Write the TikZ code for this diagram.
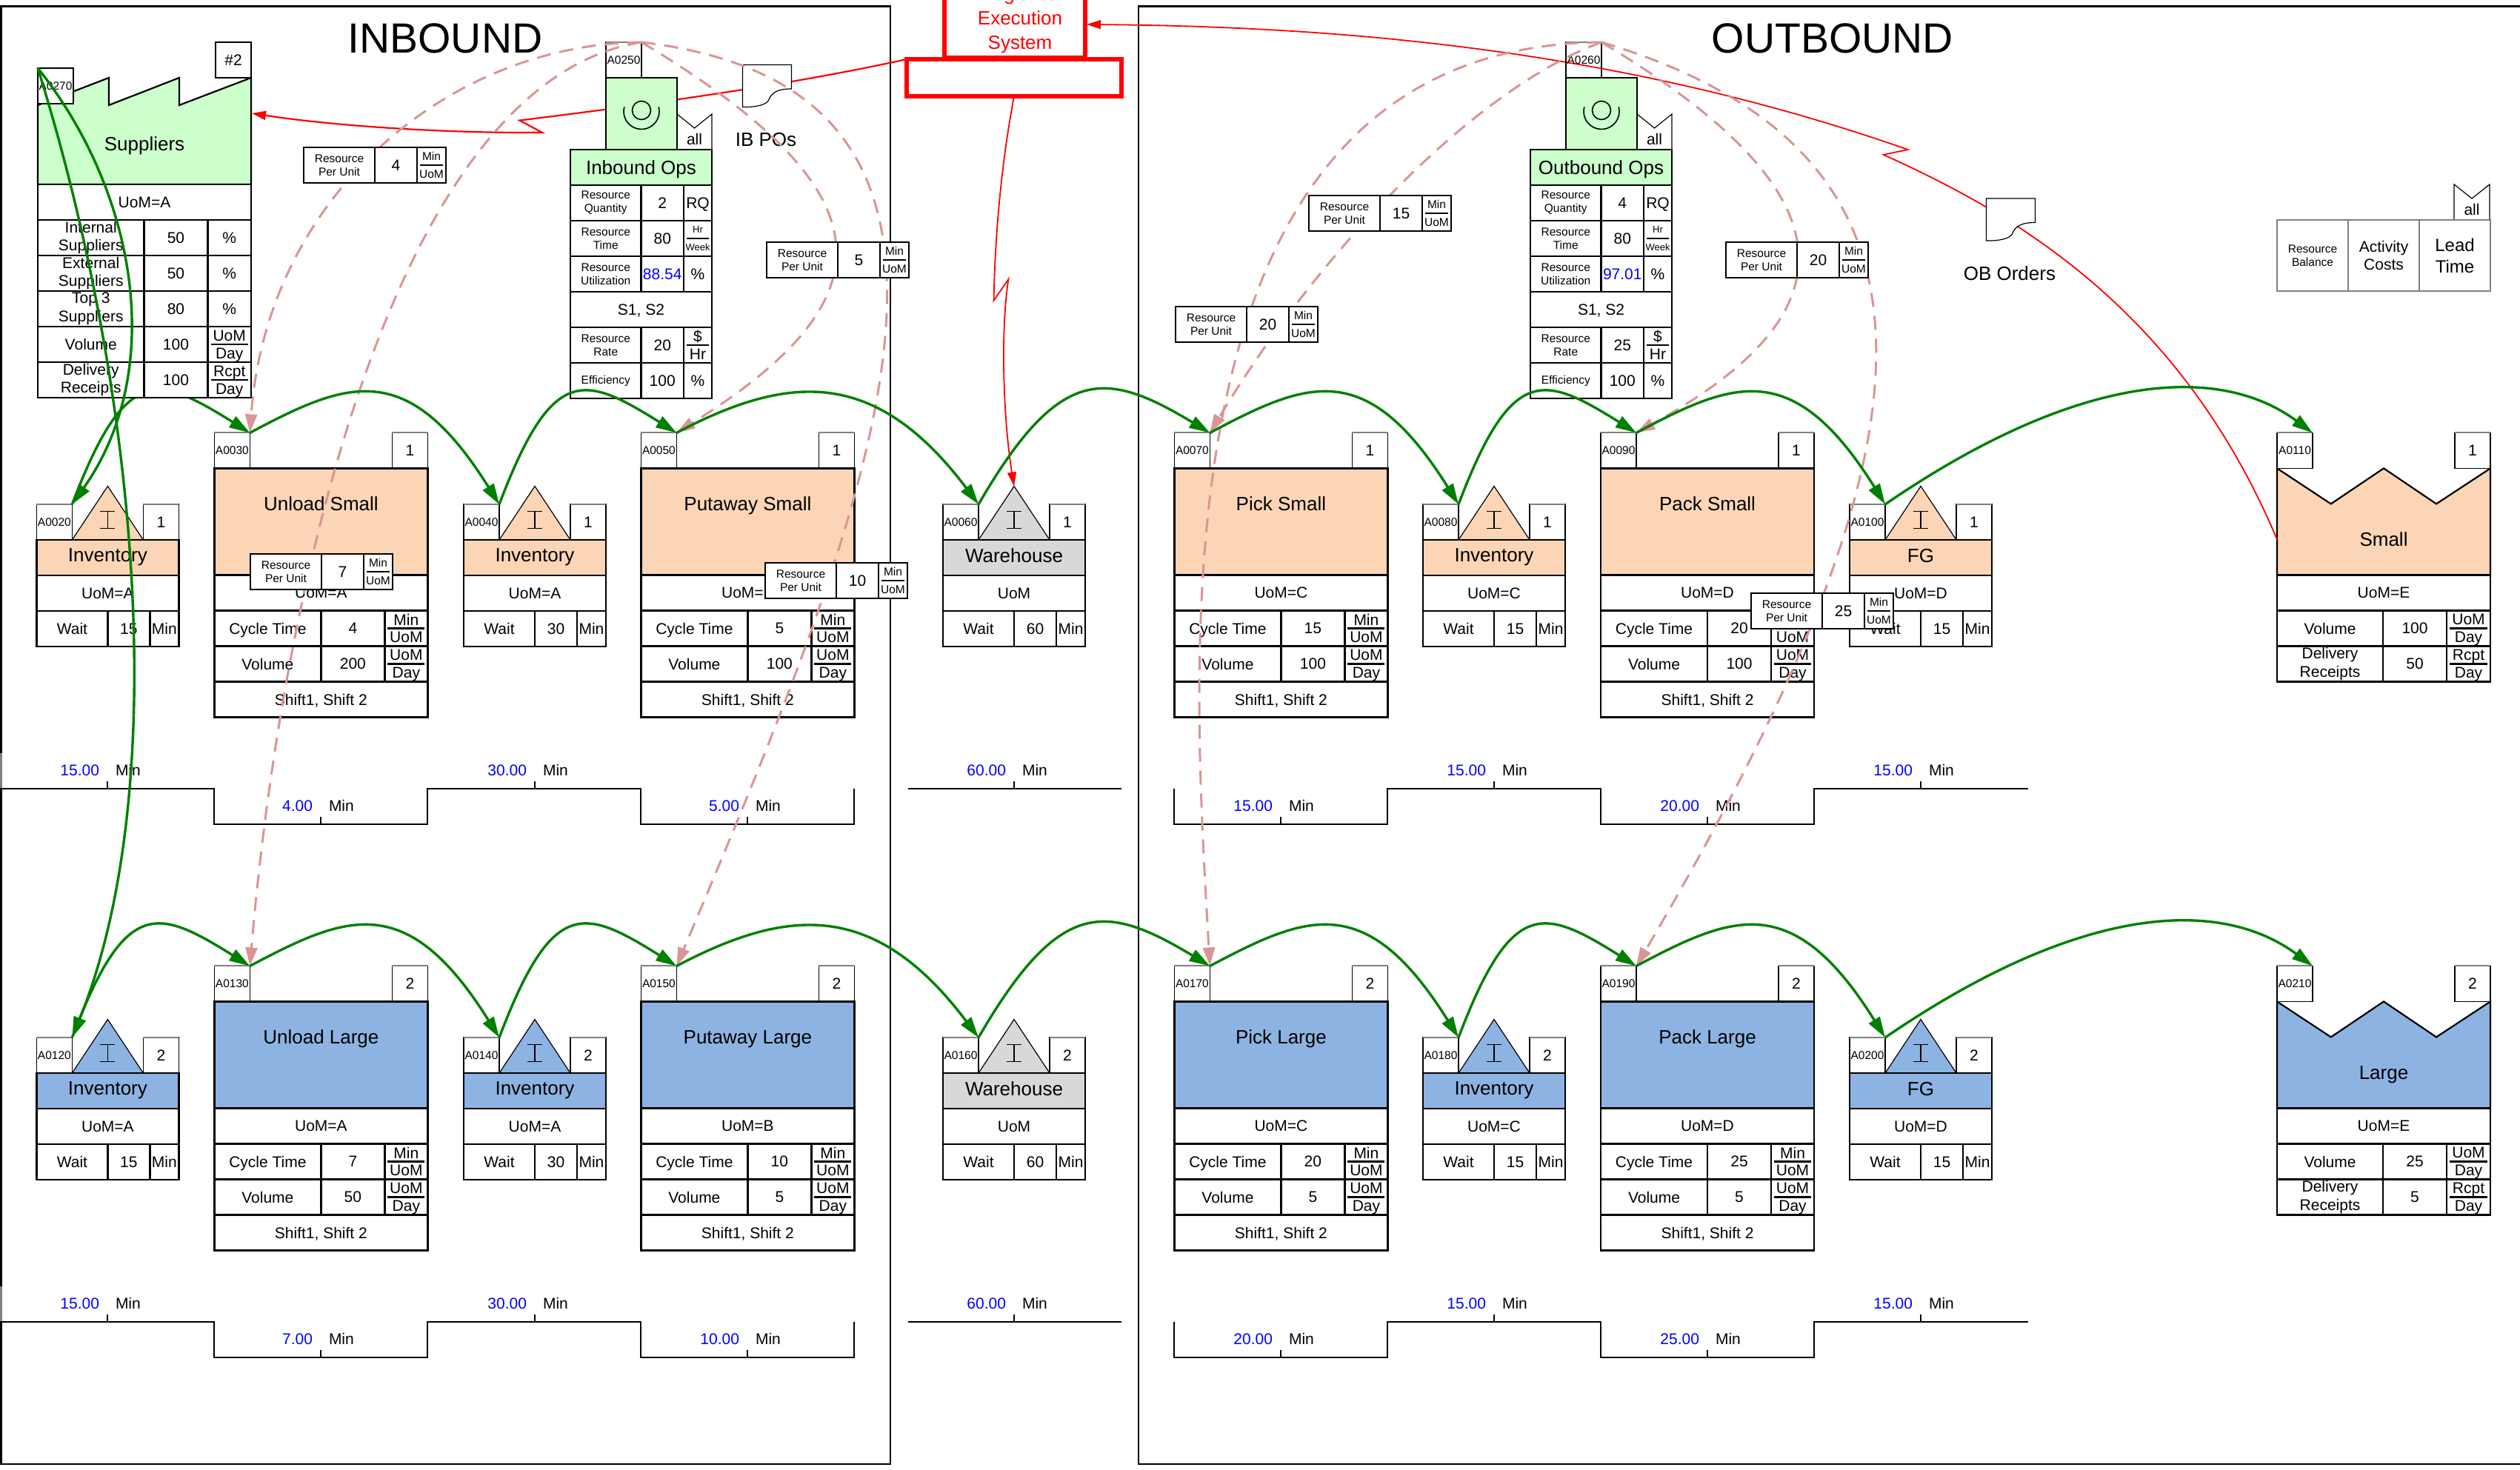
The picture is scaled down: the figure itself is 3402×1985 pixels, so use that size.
\documentclass[tikz,border=0pt]{standalone}
\usepackage{fontspec}
\setmainfont{Liberation Sans}
\usetikzlibrary{arrows.meta}
\definecolor{peach}{HTML}{FBD5B5}
\definecolor{steel}{HTML}{8DB3E2}
\definecolor{mint}{HTML}{CCFFCC}
\definecolor{stock}{HTML}{D8D8D8}
\definecolor{rose}{HTML}{D99694}
\definecolor{flowgreen}{HTML}{008000}
\newcommand{\fonthuge}{\fontsize{57}{60}\selectfont}
\newcommand{\fontbig}{\fontsize{26}{31}\selectfont}
\newcommand{\fontmid}{\fontsize{21}{24.5}\selectfont}
\newcommand{\fontsmall}{\fontsize{15.5}{18.5}\selectfont}
\newcommand{\fonttiny}{\fontsize{13}{15}\selectfont}
\tikzstyle{cell}=[draw,line width=2.2pt,fill=white,inner sep=0pt,outer sep=0pt,anchor=north west,minimum height=48pt,align=center,font=\fontmid]
\tikzstyle{plain}=[inner sep=0pt,outer sep=0pt,text depth=0pt,font=\fontmid]
\tikzstyle{tagbox}=[draw,line width=1.2pt,fill=white,inner sep=0pt,outer sep=0pt,anchor=north west,minimum width=48pt,minimum height=48pt,font=\fontsmall]
\tikzstyle{numbox}=[tagbox,font=\fontmid]
\tikzstyle{thinline}=[draw=black,line width=1.2pt]
\tikzstyle{rule}=[draw=black,line width=2.2pt]
\tikzstyle{tagtop}=[draw=black!50,line width=2pt]
\tikzstyle{tline}=[draw=black,line width=2.2pt]
\tikzstyle{frame}=[draw=black,line width=2.2pt]
\tikzstyle{flow}=[draw=flowgreen,line width=3.4pt,-{Triangle[length=28pt,width=17pt,fill=flowgreen]}]
\tikzstyle{resflow}=[draw=rose,line width=3pt,dash pattern=on 19pt off 12pt,-{Triangle[length=25pt,width=16pt,fill=rose]}]
\tikzstyle{info}=[draw=red,line width=2.2pt,-{Triangle[length=19pt,width=12pt,fill=red]}]
\tikzstyle{legend}=[cell,draw=black!50,minimum width=96pt,minimum height=96pt]
\newcommand{\cellone}[5]{\node[cell,text depth=0pt,minimum width=#4pt] (#1) at (#2,#3) {#5};}
\newcommand{\celltwo}[6]{\node[cell,font=#5,minimum width=#4pt] (#1) at (#2,#3) {#6};}
\newcommand{\celluom}[7]{%
  \node[cell,minimum width=#4pt] (#1) at (#2,#3) {};
  \node[plain,font=#7] (#1p) at ([yshift=12pt]#1.center) {#5};
  \node[plain,font=#7] (#1q) at ([yshift=-12pt]#1.center) {#6};
  \draw[rule] ([xshift=4pt]#1.west) -- ([xshift=-4pt]#1.east);
}
% process box: id, x, y, number, fill, title, uom, cycle time, volume
\newcommand{\vsmProcess}[9]{%
  \begin{scope}[shift={(#2,#3)}]
    \node[tagbox] (#1) at (0,0) {#1};
    \node[numbox] (#1n) at (240,0) {#4};
    \draw[tagtop] (#1.north west) -- (#1.north east) (#1n.north west) -- (#1n.north east);
    \node[cell,fill=#5,minimum width=288pt,minimum height=144pt] (#1h) at (0,48) {};
    \node[plain,font=\fontbig] (#1t) at (144,96) {#6};
    \cellone{#1u}{0}{192}{288}{#7}
    \cellone{#1c}{0}{240}{144}{Cycle Time}
    \cellone{#1v}{144}{240}{86}{#8}
    \celluom{#1m}{230}{240}{58}{Min}{UoM}{\fontmid}
    \cellone{#1d}{0}{288}{144}{Volume}
    \cellone{#1w}{144}{288}{86}{#9}
    \celluom{#1x}{230}{288}{58}{UoM}{Day}{\fontmid}
    \cellone{#1s}{0}{336}{288}{Shift1, Shift 2}
  \end{scope}
}
% stock triangle: id, x, y, number, fill, title, uom, wait
\newcommand{\vsmStock}[8]{%
  \begin{scope}[shift={(#2,#3)}]
    \node[tagbox] (#1) at (0,0) {#1};
    \node[numbox] (#1n) at (144,0) {#4};
    \draw[tagtop] (#1.north west) -- (#1.north east) (#1n.north west) -- (#1n.north east);
    \filldraw[thinline,fill=#5] (48,48) -- (96,-24.5) -- (144,48) -- cycle;
    \coordinate (#1a) at (96,-24.5);
    \draw[thinline] (86,9.7) -- (106,9.7) (96,9.7) -- (96,32.5) (86,32.5) -- (106,32.5);
    \node[cell,fill=#5,minimum width=192pt] (#1h) at (0,48) {};
    \node[plain,font=\fontbig] (#1t) at (96,69) {#6};
    \cellone{#1u}{0}{96}{192}{#7}
    \cellone{#1c}{0}{144}{96}{Wait}
    \cellone{#1v}{96}{144}{57}{#8}
    \cellone{#1m}{153}{144}{39}{Min}
  \end{scope}
}
% customer: id, x, y, number, fill, title, uom, volume, receipts
\newcommand{\vsmCustomer}[9]{%
  \begin{scope}[shift={(#2,#3)}]
    \filldraw[rule,fill=#5] (0,48) -- (72.7,96) -- (144,48) -- (215,96) -- (288,48) -- (288,192) -- (0,192) -- cycle;
    \node[tagbox] (#1) at (0,0) {#1};
    \node[numbox] (#1n) at (240,0) {#4};
    \draw[tagtop] (#1.north west) -- (#1.north east) (#1n.north west) -- (#1n.north east);
    \coordinate (#1w) at (0,144);
    \node[plain,font=\fontbig] (#1t) at (144,144) {#6};
    \cellone{#1u}{0}{192}{288}{#7}
    \cellone{#1c}{0}{240}{143}{Volume}
    \cellone{#1v}{143}{240}{86}{#8}
    \celluom{#1m}{229}{240}{59}{UoM}{Day}{\fontmid}
    \celltwo{#1d}{0}{288}{143}{\fontmid}{Delivery\\Receipts}
    \cellone{#1w2}{143}{288}{86}{#9}
    \celluom{#1x}{229}{288}{59}{Rcpt}{Day}{\fontmid}
  \end{scope}
}
% operator block: id, x, title, quantity, time, utilization, rate, efficiency
\newcommand{\vsmOps}[8]{%
  \begin{scope}[shift={(#2,0)}]
    \node[tagbox,fill=none] (#1) at (48,57) {#1};
    \draw[tagtop] (#1.north west) -- (#1.north east);
    \node[cell,fill=mint,minimum width=96pt,minimum height=97pt] (#1b) at (48,105) {};
    \draw[thinline,line width=1.6pt] (96,149) circle (12.5pt);
    \draw[thinline,line width=1.6pt] (72.8,144.3) arc[start angle=165,end angle=375,radius=24pt];
    \draw[thinline] (144,202) -- (144,154) -- (167.5,173) -- (191,154) -- (191,202);
    \node[plain] (#1all) at (167.5,188) {all};
    \node[cell,fill=mint,font=\fontbig,text depth=0pt,minimum width=191pt] (#1t) at (0,202) {#3};
    \celltwo{#1q}{0}{250}{95.5}{\fontsmall}{Resource\\Quantity}
    \cellone{#1qv}{95.5}{250}{57.5}{#4}
    \cellone{#1qu}{153}{250}{38}{RQ}
    \celltwo{#1r}{0}{298}{95.5}{\fontsmall}{Resource\\Time}
    \cellone{#1rv}{95.5}{298}{57.5}{#5}
    \celluom{#1ru}{153}{298}{38}{Hr}{Week}{\fonttiny}
    \celltwo{#1y}{0}{346}{95.5}{\fontsmall}{Resource\\Utilization}
    \cellone{#1yv}{95.5}{346}{57.5}{\textcolor{blue}{#6}}
    \cellone{#1yu}{153}{346}{38}{\%}
    \cellone{#1s}{0}{394}{191}{S1, S2}
    \celltwo{#1a}{0}{442}{95.5}{\fontsmall}{Resource\\Rate}
    \cellone{#1av}{95.5}{442}{57.5}{#7}
    \celluom{#1au}{153}{442}{38}{\$}{Hr}{\fontmid}
    \celltwo{#1e}{0}{490}{95.5}{\fontsmall}{Efficiency}
    \cellone{#1ev}{95.5}{490}{57.5}{#8}
    \cellone{#1eu}{153}{490}{38}{\%}
  \end{scope}
}
% resource per unit box
\newcommand{\vsmRes}[4]{%
  \begin{scope}[shift={(#2,#3)}]
    \celltwo{#1a}{0}{0}{96}{\fontsmall}{Resource\\Per Unit}
    \cellone{#1b}{96}{0}{57}{#4}
    \celluom{#1c}{153}{0}{39}{Min}{UoM}{\fontsmall}
  \end{scope}
}
% document: name, x, y, label
\newcommand{\vsmDoc}[4]{%
  \begin{scope}[shift={(#2,#3)}]
    \filldraw[thinline,fill=white] (0,0) -- (66,0) -- (66,32.5) .. controls (48,32.5) and (39,37) .. (35,48) .. controls (32,54) and (18,57.5) .. (0,57) -- cycle;
    \node[plain,font=\fontbig] (#1) at (31.5,101) {#4};
  \end{scope}
}
% tick with time below the timeline
\newcommand{\vsmTime}[4]{%
  \draw[thinline] (#2,#3) -- (#2,#3-10);
  \node[plain,text=blue,anchor=east] (#1v) at (#2-11,#3-25) {#4};
  \node[plain,anchor=west] (#1u) at (#2+11,#3-25) {Min};
}
\newcommand{\vsmTimeline}[1]{%
  \draw[tline] (0,#1) -- (289,#1) -- (289,#1+48) -- (577,#1+48) -- (577,#1) -- (865,#1) -- (865,#1+48) -- (1153,#1+48) -- (1153,#1);
  \draw[tline] (1226,#1) -- (1514,#1);
  \draw[tline] (1585,#1) -- (1585,#1+48) -- (1873,#1+48) -- (1873,#1) -- (2161,#1) -- (2161,#1+48) -- (2449,#1+48) -- (2449,#1) -- (2738,#1);
}

\begin{document}
\begin{tikzpicture}[x=1pt,y=-1pt]
  \useasboundingbox (0,0) rectangle (3402,1985);
  % frames
  \draw[frame] (1.5,1017) -- (1.5,8.5) -- (1202,8.5) -- (1202,1977) -- (1.5,1977) -- (1.5,1785);
  \draw[frame] (1.5,1065) -- (1.5,1737);
  \draw[draw=black!50,line width=3pt] (1.5,1017) -- (1.5,1065) (1.5,1737) -- (1.5,1785);
  \draw[frame] (3410,8.5) -- (1537,8.5) -- (1537,1977) -- (3410,1977);
  \node[plain,font=\fonthuge] (inbound) at (601,52) {INBOUND};
  \node[plain,font=\fonthuge] (outbound) at (2474,52) {OUTBOUND};

  % timelines
  \vsmTimeline{1065}
  \vsmTimeline{1785}
  \vsmTime{ta}{145}{1065}{15.00}
  \vsmTime{tb}{433}{1113}{4.00}
  \vsmTime{tc}{722}{1065}{30.00}
  \vsmTime{td}{1009}{1113}{5.00}
  \vsmTime{te}{1369}{1065}{60.00}
  \vsmTime{tf}{1729}{1113}{15.00}
  \vsmTime{tg}{2017}{1065}{15.00}
  \vsmTime{th}{2305}{1113}{20.00}
  \vsmTime{ti}{2593}{1065}{15.00}
  \vsmTime{tj}{145}{1785}{15.00}
  \vsmTime{tk}{433}{1833}{7.00}
  \vsmTime{tl}{722}{1785}{30.00}
  \vsmTime{tm}{1009}{1833}{10.00}
  \vsmTime{tn}{1369}{1785}{60.00}
  \vsmTime{to}{1729}{1833}{20.00}
  \vsmTime{tp}{2017}{1785}{15.00}
  \vsmTime{tq}{2305}{1833}{25.00}
  \vsmTime{tr}{2593}{1785}{15.00}

  % small family
  \vsmStock{A0020}{49.4}{681}{1}{peach}{Inventory}{UoM=A}{15}
  \vsmProcess{A0030}{289.4}{584.4}{1}{peach}{Unload Small}{UoM=A}{4}{200}
  \vsmStock{A0040}{626}{681}{1}{peach}{Inventory}{UoM=A}{30}
  \vsmProcess{A0050}{865.4}{584.4}{1}{peach}{Putaway Small}{UoM=B}{5}{100}
  \vsmStock{A0060}{1273}{681}{1}{stock}{Warehouse}{UoM}{60}
  \vsmProcess{A0070}{1585.4}{584.4}{1}{peach}{Pick Small}{UoM=C}{15}{100}
  \vsmStock{A0080}{1921}{681}{1}{peach}{Inventory}{UoM=C}{15}
  \vsmProcess{A0090}{2161}{584.4}{1}{peach}{Pack Small}{UoM=D}{20}{100}
  \vsmStock{A0100}{2497}{681}{1}{peach}{FG}{UoM=D}{15}
  \vsmCustomer{A0110}{3074}{584.4}{1}{peach}{Small}{UoM=E}{100}{50}
  % large family
  \vsmStock{A0120}{49.4}{1401}{2}{steel}{Inventory}{UoM=A}{15}
  \vsmProcess{A0130}{289.4}{1304.4}{2}{steel}{Unload Large}{UoM=A}{7}{50}
  \vsmStock{A0140}{626}{1401}{2}{steel}{Inventory}{UoM=A}{30}
  \vsmProcess{A0150}{865.4}{1304.4}{2}{steel}{Putaway Large}{UoM=B}{10}{5}
  \vsmStock{A0160}{1273}{1401}{2}{stock}{Warehouse}{UoM}{60}
  \vsmProcess{A0170}{1585.4}{1304.4}{2}{steel}{Pick Large}{UoM=C}{20}{5}
  \vsmStock{A0180}{1921}{1401}{2}{steel}{Inventory}{UoM=C}{15}
  \vsmProcess{A0190}{2161}{1304.4}{2}{steel}{Pack Large}{UoM=D}{25}{5}
  \vsmStock{A0200}{2497}{1401}{2}{steel}{FG}{UoM=D}{15}
  \vsmCustomer{A0210}{3074}{1304.4}{2}{steel}{Large}{UoM=E}{25}{5}

  \draw[flow] (A0020.north east) .. controls +(72,-190) and +(-125,-78) .. (A0030.north east);

  % suppliers
  \filldraw[rule,fill=mint] (51,142) -- (147,105) -- (147,142) -- (242,105) -- (242,142) -- (339,105) -- (339,249) -- (51,249) -- cycle;
  \node[tagbox] (A0270) at (51,92) {A0270};
  \node[numbox] (A0270n) at (291,57) {\#2};
  \coordinate (A0270w) at (340,153);
  \node[plain,font=\fontbig] (A0270t) at (195,194) {Suppliers};
  \cellone{A0270u}{51}{249}{288}{UoM=A}
  \celltwo{A0270a}{51}{297}{143.5}{\fontmid}{Internal\\Suppliers}
  \cellone{A0270b}{194.5}{297}{86}{50}
  \cellone{A0270c}{280.5}{297}{58.5}{\%}
  \celltwo{A0270d}{51}{345}{143.5}{\fontmid}{External\\Suppliers}
  \cellone{A0270e}{194.5}{345}{86}{50}
  \cellone{A0270f}{280.5}{345}{58.5}{\%}
  \celltwo{A0270g}{51}{393}{143.5}{\fontmid}{Top 3\\Suppliers}
  \cellone{A0270h}{194.5}{393}{86}{80}
  \cellone{A0270i}{280.5}{393}{58.5}{\%}
  \cellone{A0270j}{51}{441}{143.5}{Volume}
  \cellone{A0270k}{194.5}{441}{86}{100}
  \celluom{A0270l}{280.5}{441}{58.5}{UoM}{Day}{\fontmid}
  \celltwo{A0270m}{51}{489}{143.5}{\fontmid}{Delivery\\Receipts}
  \cellone{A0270o}{194.5}{489}{86}{100}
  \celluom{A0270p}{280.5}{489}{58.5}{Rcpt}{Day}{\fontmid}

  % logistics system
  \node[draw=red,line width=6pt,fill=white,outer sep=0pt,minimum width=190pt,minimum height=108pt] (les) at (1370,24) {};
  \node[inner sep=0pt,align=center,text=red,font=\fontsize{26}{33}\selectfont] (lest) at (1377,27) {Logistics\\Execution\\System};
  \node[draw=red,line width=6pt,fill=white,outer sep=0pt,anchor=north west,minimum width=290pt,minimum height=50pt] (lesbar) at (1224,80) {};
  \coordinate (lesin) at (1467,33);
  \coordinate (ibzigA) at (701.5,162.6);
  \coordinate (ibzigB) at (732,179);
  \coordinate (obzigA) at (2575.6,202);
  \coordinate (obzigB) at (2542.7,209);
  \coordinate (whzigA) at (1341.6,405.7);
  \coordinate (whzigB) at (1361.4,377);
  \draw[info] (lesbar.north west) .. controls (1100,107) and (950,132) .. (ibzigA) -- (ibzigB) .. controls (600,180) and (450,170) .. (A0270w);
  \draw[info,line width=1.8pt] (A0110w) .. controls (2944,420) and (2723,290) .. (obzigB) -- (obzigA) .. controls (2205,72) and (1836,36) .. (lesin);
  \draw[info,line width=1.8pt] (lesbar.south) .. controls (1350,230) and (1343,330) .. (whzigA) -- (whzigB) .. controls (1350,450) and (1355,570) .. (A0060a);

  % documents and operators
  \vsmDoc{ibpos}{1002.5}{87.5}{IB POs}
  \vsmDoc{oborders}{2681.4}{268}{OB Orders}
  \vsmOps{A0250}{770}{Inbound Ops}{2}{80}{88.54}{20}{100}
  \vsmOps{A0260}{2066}{Outbound Ops}{4}{80}{97.01}{25}{100}

  % legend
  \draw[thinline] (3313,297) -- (3313,249) -- (3337,268) -- (3361,249) -- (3361,297);
  \node[plain] (legall) at (3337,283) {all};
  \node[legend,font=\fontsmall] (legres) at (3074,297) {Resource\\Balance};
  \node[legend] (legcost) at (3170,297) {Activity\\Costs};
  \node[legend,font=\fontsize{24}{29}\selectfont] (leglead) at (3266,297) {Lead\\Time};

  % resource links
  \draw[resflow] (A0250.north east) .. controls (600,60) and (360,270) .. (A0030.north east);
  \draw[resflow] (A0250.north east) .. controls (530,110) and (380,800) .. (A0130.north east);
  \draw[resflow] (A0250.north east) .. controls (1195,255) and (1213,398) .. (A0050.north east);
  \draw[resflow] (A0250.north east) .. controls (1400,120) and (1190,650) .. (A0150.north east);
  \draw[resflow] (A0260.north east) .. controls (1990,120) and (1780,340) .. (A0070.north east);
  \draw[resflow] (A0260.north east) .. controls (1554,63) and (1608,870) .. (A0170.north east);
  \draw[resflow] (A0260.north east) .. controls (2512,267) and (2498,425) .. (A0090.north east);
  \draw[resflow] (A0260.north east) .. controls (2678,211) and (2615,614) .. (A0190.north east);

  \vsmRes{resa}{410}{199}{4}
  \vsmRes{resb}{1035}{327}{5}
  \vsmRes{resc}{338}{748}{7}
  \vsmRes{resd}{1033}{760}{10}
  \vsmRes{rese}{1767}{264}{15}
  \vsmRes{resf}{1587}{414}{20}
  \vsmRes{resg}{2330}{327}{20}
  \vsmRes{resh}{2364}{801}{25}

  % material flow, small
  \draw[flow] (A0270.north west) .. controls (185,260) and (225,500) .. (A0020.north east);
  \draw[flow] (A0030.north east) .. controls +(130,-69) and +(-125,-200) .. (A0040.north east);
  \draw[flow] (A0040.north east) .. controls +(72,-190) and +(-125,-78) .. (A0050.north east);
  \draw[flow] (A0050.north east) .. controls +(150,-79) and +(-140,-186) .. (A0060.north east);
  \draw[flow] (A0060.north east) .. controls +(110,-190) and +(-140,-84) .. (A0070.north east);
  \draw[flow] (A0070.north east) .. controls +(130,-69) and +(-125,-200) .. (A0080.north east);
  \draw[flow] (A0080.north east) .. controls +(72,-190) and +(-125,-78) .. (A0090.north east);
  \draw[flow] (A0090.north east) .. controls +(130,-69) and +(-125,-200) .. (A0100.north east);
  \draw[flow] (A0100.north east) .. controls +(255,-175) and +(-130,-96) .. (A0110.north east);
  % material flow, large
  \draw[flow] (A0270.north west) .. controls (185,520) and (235,1060) .. (A0120.north east);
  \draw[flow] (A0120.north east) .. controls +(72,-190) and +(-125,-78) .. (A0130.north east);
  \draw[flow] (A0130.north east) .. controls +(130,-69) and +(-125,-200) .. (A0140.north east);
  \draw[flow] (A0140.north east) .. controls +(72,-190) and +(-125,-78) .. (A0150.north east);
  \draw[flow] (A0150.north east) .. controls +(150,-79) and +(-140,-186) .. (A0160.north east);
  \draw[flow] (A0160.north east) .. controls +(110,-190) and +(-140,-84) .. (A0170.north east);
  \draw[flow] (A0170.north east) .. controls +(130,-69) and +(-125,-200) .. (A0180.north east);
  \draw[flow] (A0180.north east) .. controls +(72,-190) and +(-125,-78) .. (A0190.north east);
  \draw[flow] (A0190.north east) .. controls +(130,-69) and +(-125,-200) .. (A0200.north east);
  \draw[flow] (A0200.north east) .. controls +(255,-175) and +(-130,-96) .. (A0210.north east);
\end{tikzpicture}
\end{document}
